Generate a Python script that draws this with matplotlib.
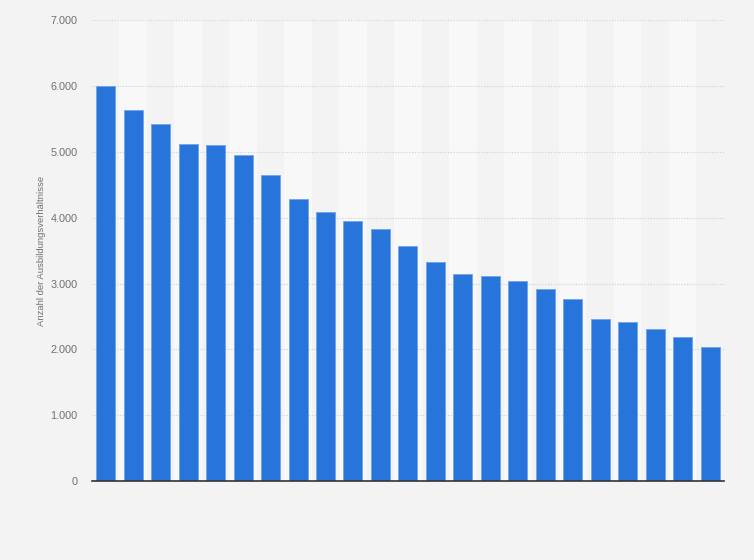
import matplotlib
matplotlib.use('Agg')
import matplotlib.pyplot as plt
from matplotlib.ticker import FuncFormatter

# Anzahl der Ausbildungsverhältnisse, 23 Berufe (ohne Beschriftung)
positions = list(range(23))
values = [6000, 5640, 5430, 5125, 5110, 4953, 4648, 4288, 4085, 3948,
          3826, 3572, 3324, 3141, 3111, 3035, 2913, 2761, 2457, 2411,
          2304, 2183, 2030]
y_ticks = [0, 1000, 2000, 3000, 4000, 5000, 6000, 7000]
y_label = 'Anzahl der Ausbildungsverhältnisse'


def de_thousands(v, pos):
    return f'{int(v):,}'.replace(',', '.')


def main():
    plt.rcParams['font.family'] = ['Liberation Sans', 'DejaVu Sans']
    fig = plt.figure(figsize=(7.54, 5.6), dpi=100)
    fig.patch.set_facecolor('#f3f3f3')
    ax = fig.add_axes([0.122, 0.141, 0.838, 0.823])
    ax.set_facecolor('#f3f3f3')

    # alternating column bands
    for p in positions:
        if p % 2 == 1:
            ax.axvspan(p - 0.5, p + 0.5, color='#f8f8f8', zorder=0, lw=0)

    ax.bar(positions, values, width=0.69, color='#2775db',
           edgecolor='#6fa3e8', linewidth=0.6, zorder=3)

    ax.set_xlim(-0.5, len(positions) - 0.5)
    ax.set_ylim(0, 7000)
    ax.set_yticks(y_ticks)
    ax.yaxis.set_major_formatter(FuncFormatter(de_thousands))
    ax.set_xticks([])

    ax.grid(axis='y', color='#cfcfcf', linestyle=(0, (1, 1.5)), linewidth=0.8, zorder=1)
    for side in ['top', 'right', 'left']:
        ax.spines[side].set_visible(False)
    ax.spines['bottom'].set_color('#333333')
    ax.spines['bottom'].set_linewidth(1.2)
    ax.spines['bottom'].set_zorder(4)

    ax.tick_params(axis='y', length=0, pad=10.5, labelsize=7.8, labelcolor='#707070')
    ax.set_ylabel(y_label, fontsize=6.8, color='#707070', labelpad=3)

    fig.savefig('out.png', dpi=100, facecolor=fig.get_facecolor())


if __name__ == '__main__':
    main()
